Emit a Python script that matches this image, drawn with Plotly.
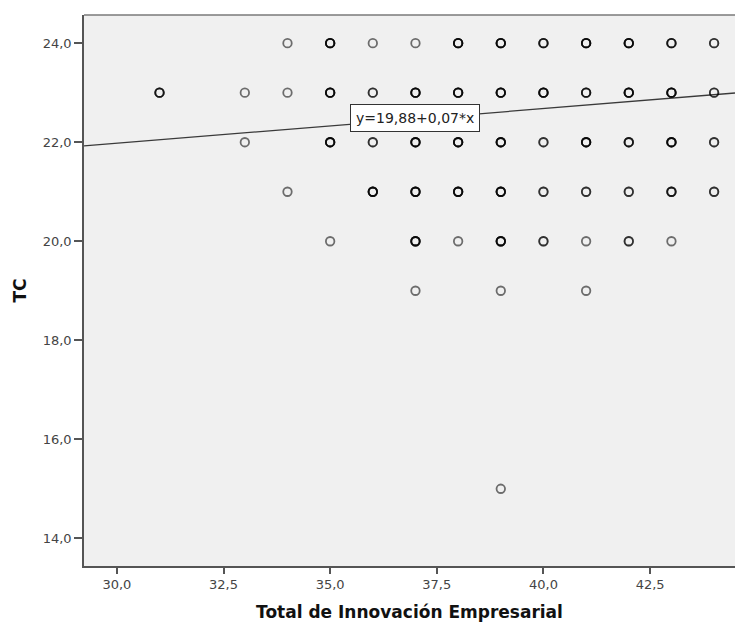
import plotly.graph_objects as go

# Observed (x, y) score pairs and how many cases fall on each pair
innovacion = [34, 35, 36, 37, 38, 39, 40, 41, 42, 43, 44,
              31, 33, 34, 35, 36, 37, 38, 39, 40, 41, 42, 43, 44,
              33, 35, 36, 37, 38, 39, 40, 41, 42, 43, 44,
              34, 36, 37, 38, 39, 40, 41, 42, 43, 44,
              35, 37, 38, 39, 40, 41, 42, 43,
              37, 39, 41,
              39]
tc = [24] * 11 + [23] * 13 + [22] * 11 + [21] * 10 + [20] * 8 + [19] * 3 + [15]
n_cases = [1, 4, 1, 1, 4, 4, 3, 4, 4, 3, 2,
           3, 1, 1, 4, 2, 4, 4, 4, 4, 3, 4, 4, 2,
           1, 4, 2, 4, 4, 4, 2, 4, 3, 4, 2,
           1, 4, 4, 4, 4, 2, 2, 2, 3, 2,
           1, 4, 1, 4, 2, 1, 2, 1,
           1, 1, 1,
           1]

# Fitted linear regression: y = 19,88 + 0,07*x
intercept = 19.88
slope = 0.07

x_ticks = [30.0, 32.5, 35.0, 37.5, 40.0, 42.5]
x_tick_labels = ["30,0", "32,5", "35,0", "37,5", "40,0", "42,5"]
y_ticks = [14.0, 16.0, 18.0, 20.0, 22.0, 24.0]
y_tick_labels = ["14,0", "16,0", "18,0", "20,0", "22,0", "24,0"]

x_range = [29.23, 44.49]
y_range = [13.44, 24.57]

# One marker per case, so coinciding cases stack and look darker
px, py = [], []
for xv, yv, n in zip(innovacion, tc, n_cases):
    px.extend([xv] * n)
    py.extend([yv] * n)

fig = go.Figure()

fig.add_trace(go.Scatter(
    x=[x_range[0], x_range[1]],
    y=[intercept + slope * x_range[0], intercept + slope * x_range[1]],
    mode="lines",
    line=dict(color="#3a3a3a", width=1.3),
    hoverinfo="skip",
    showlegend=False,
))

fig.add_trace(go.Scatter(
    x=px, y=py,
    mode="markers",
    marker=dict(symbol="circle-open", size=8.5,
                color="rgba(0,0,0,0.55)",
                line=dict(width=1.8, color="rgba(0,0,0,0.55)")),
    showlegend=False,
))

fig.add_annotation(
    x=37.0, y=22.48, xref="x", yref="y",
    text="y=19,88+0,07*x",
    showarrow=False,
    font=dict(family="DejaVu Sans", size=14, color="#222222"),
    bgcolor="white", bordercolor="#333333", borderwidth=1, borderpad=5,
)

# Lighter frame line along the top of the plot area
fig.add_shape(type="line", xref="paper", yref="paper",
              x0=0, x1=1, y0=1, y1=1,
              line=dict(color="#7a7a7a", width=1.5))

fig.update_layout(
    width=735, height=624,
    margin=dict(l=84, r=0, t=15, b=58),
    paper_bgcolor="white",
    plot_bgcolor="#f0f0f0",
    font=dict(family="DejaVu Sans", color="#333333"),
    xaxis=dict(
        range=x_range, tickvals=x_ticks, ticktext=x_tick_labels,
        showgrid=False, zeroline=False,
        showline=True, linecolor="#555555", linewidth=1.5,
        ticks="outside", ticklen=6, tickwidth=1.5, tickcolor="#555555",
        tickfont=dict(family="DejaVu Sans", size=13, color="#444444"),
        title=dict(text="<b>Total de Innovación Empresarial</b>",
                   font=dict(family="DejaVu Sans", size=17, color="#111111"),
                   standoff=15),
    ),
    yaxis=dict(
        range=y_range, tickvals=y_ticks, ticktext=y_tick_labels,
        showgrid=False, zeroline=False,
        showline=True, linecolor="#555555", linewidth=1.5,
        ticks="outside", ticklen=8, tickwidth=1.5, tickcolor="#555555",
        tickfont=dict(family="DejaVu Sans", size=13, color="#444444"),
        title=dict(text="<b>TC</b>",
                   font=dict(family="DejaVu Sans", size=17, color="#111111"),
                   standoff=12),
    ),
)

fig.write_html("out.html")
